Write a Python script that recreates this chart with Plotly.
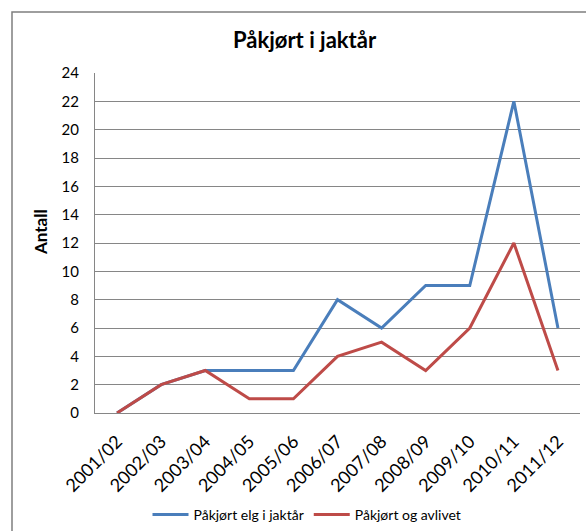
import plotly.graph_objects as go

categories = ["2001/02", "2002/03", "2003/04", "2004/05", "2005/06", "2006/07",
              "2007/08", "2008/09", "2009/10", "2010/11", "2011/12"]
elg_jaktar = [0, 2, 3, 3, 3, 8, 6, 9, 9, 22, 6]
avlivet = [0, 2, 3, 1, 1, 4, 5, 3, 6, 12, 3]
y_ticks = list(range(0, 25, 2))

W, H = 586, 531
L, R, T, B = 95, 6, 73, 118
pw = W - L - R
ph = H - T - B

def px_x(x):
    return (x - L) / pw

def px_y(y):
    return (H - B - y) / ph

FONT = "Lato, Carlito, 'Liberation Sans', sans-serif"

fig = go.Figure()
fig.add_trace(go.Scatter(x=categories, y=elg_jaktar, mode="lines",
                         name="Påkjørt elg i jaktår",
                         line=dict(color="#4A7EBB", width=3)))
fig.add_trace(go.Scatter(x=categories, y=avlivet, mode="lines",
                         name="Påkjørt og avlivet",
                         line=dict(color="#BE4B48", width=3)))

fig.update_layout(
    width=W, height=H,
    margin=dict(l=L, r=R, t=T, b=B, autoexpand=False),
    paper_bgcolor="white", plot_bgcolor="white",
    font=dict(family=FONT, size=14, color="black"),
    showlegend=True,
    legend=dict(orientation="h", x=px_x(307), xanchor="center",
                y=px_y(515), yanchor="middle",
                font=dict(size=14), itemwidth=36, traceorder="normal"),
    xaxis=dict(type="category", range=[-0.5, 10.5], showgrid=False,
               showline=True, linecolor="#868686", linewidth=1,
               tickangle=-45, ticks="outside", ticklen=10,
               tickcolor="rgba(0,0,0,0)", tickfont=dict(size=18),
               zeroline=False, fixedrange=True, automargin=False),
    yaxis=dict(range=[0, 24], tickvals=y_ticks, showgrid=True,
               gridcolor="#868686", gridwidth=1,
               showline=True, linecolor="#868686", linewidth=1,
               ticks="", ticklabelstandoff=12, tickfont=dict(size=15),
               zeroline=False, fixedrange=True, automargin=False),
    shapes=[dict(type="rect", xref="paper", yref="paper",
                 x0=px_x(12), x1=px_x(W + 20), y0=px_y(H + 20), y1=px_y(12),
                 line=dict(color="#7f7f7f", width=1.5), fillcolor="rgba(0,0,0,0)",
                 layer="below")],
    annotations=[
        dict(text="<b>Påkjørt i jaktår</b>", xref="paper", yref="paper",
             x=px_x(305), y=px_y(40), xanchor="center", yanchor="middle",
             showarrow=False, font=dict(size=22, family=FONT)),
        dict(text="<b>Antall</b>", xref="paper", yref="paper",
             x=px_x(40), y=px_y(232), xanchor="center", yanchor="middle",
             textangle=-90, showarrow=False, font=dict(size=17, family=FONT)),
    ],
)

fig.write_html("out.html", config={"displayModeBar": False},
               post_script="document.body.style.margin='0';document.body.style.overflow='hidden';")
